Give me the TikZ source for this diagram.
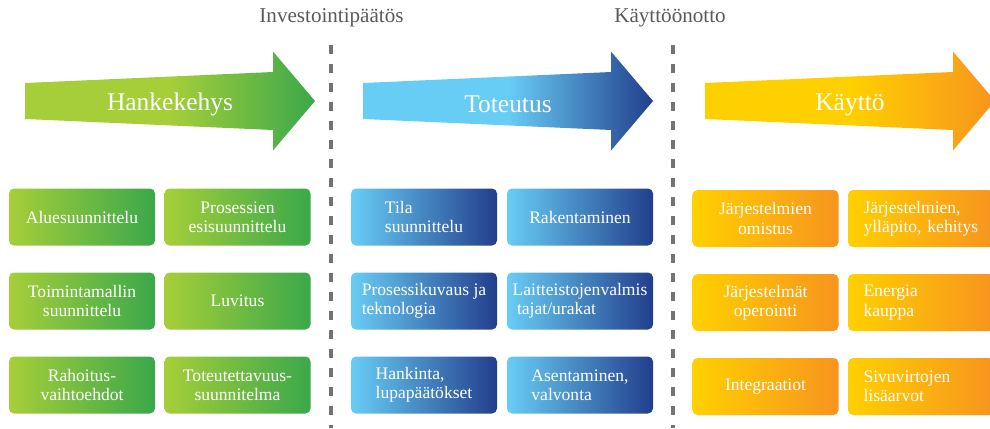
\documentclass[tikz,border=0pt]{standalone}
\usepackage{fontspec}
\setmainfont{Liberation Serif}
\usetikzlibrary{positioning}
\definecolor{hkGreenL} {RGB}{166,206, 57}
\definecolor{hkGreenD} {RGB}{ 58,168, 74}
\definecolor{ttBlueL}  {RGB}{104,205,245}
\definecolor{ttBlueD}  {RGB}{ 34, 62,140}
\definecolor{kyOrangeL}{RGB}{255,208,  0}
\definecolor{kyOrangeD}{RGB}{247,148, 30}
\definecolor{phGrey}   {RGB}{ 90, 90, 90}

\begin{document}
\begin{tikzpicture}[
  every node/.style={font=\fontsize{10}{11}\selectfont},
  box/.style={rounded corners=1mm,minimum width=2.92cm,minimum height=1.14cm,
              align=center,text=white,inner sep=2pt},
  greenbox/.style={box,left color=hkGreenL,right color=hkGreenD},
  bluebox/.style={box,left color=ttBlueL,right color=ttBlueD},
  orangebox/.style={box,left color=kyOrangeL,right color=kyOrangeD},
  orleft/.style={align=left,text width=2.3cm,inner xsep=0.31cm},
  arrowlabel/.style={text=white,font=\fontsize{14.5}{16}\selectfont},
  phaselabel/.style={text=phGrey,font=\fontsize{12}{14}\selectfont},
  divider/.style={draw=phGrey!85,line width=2pt,dash pattern=on 1.8mm off 2mm}
]
\useasboundingbox (0,0) rectangle (19.8,8.56);
\clip (0,0) rectangle (19.8,8.56);

% phase arrows
\foreach \x/\cl/\cd in {0.5/hkGreenL/hkGreenD,7.26/ttBlueL/ttBlueD,14.1/kyOrangeL/kyOrangeD}
  \shade[left color=\cl,right color=\cd,middle color=\cl,shift={(\x,6.54)}]
    (0,0.36) -- (4.96,0.58) -- (4.96,0.99) -- (5.8,0)
    -- (4.96,-0.99) -- (4.96,-0.58) -- (0,-0.36) -- cycle;

\node[arrowlabel] (hanke) at (3.4,6.47)   {Hankekehys};
\node[arrowlabel] (toteu) at (10.16,6.47) {Toteutus};
\node[arrowlabel] (kaytt) at (17.0,6.47)  {Käyttö};

% decision points
\node[phaselabel] (invest) at (6.63,8.2) {Investointipäätös};
\node[phaselabel] (otto)   at (13.4,8.2) {Käyttöönotto};

\coordinate (inv top) at (6.62,7.66);
\coordinate (inv bot) at (6.62,0);
\coordinate (ott top) at (13.46,7.66);
\coordinate (ott bot) at (13.46,0);
\draw[divider] (inv top) -- (inv bot);
\draw[divider] (ott top) -- (ott bot);

% Hankekehys
\node[greenbox] (g11) at (1.64,4.22) {Aluesuunnittelu};
\node[greenbox] (g12) at (4.75,4.22) {Prosessien\\esisuunnittelu};
\node[greenbox] (g21) at (1.64,2.54) {Toimintamallin\\suunnittelu};
\node[greenbox] (g22) at (4.75,2.54) {Luvitus};
\node[greenbox] (g31) at (1.64,0.86) {Rahoitus-\\vaihtoehdot};
\node[greenbox] (g32) at (4.75,0.86) {Toteutettavuus-\\suunnitelma};

% Toteutus
\node[bluebox,align=left] (b11) at (8.48,4.22) {Tila\\suunnittelu};
\node[bluebox]            (b12) at (11.6,4.22) {Rakentaminen};
\node[bluebox,align=left] (b21) at (8.48,2.54) {Prosessikuvaus ja\\teknologia};
\node[bluebox,align=left] (b22) at (11.6,2.54) {Laitteistojenvalmis\\\hspace*{0.25em}tajat/urakat};
\node[bluebox,align=left] (b31) at (8.48,0.86) {Hankinta,\\lupapäätökset};
\node[bluebox,align=left] (b32) at (11.6,0.86) {Asentaminen,\\valvonta};

% Käyttö
\node[orangebox]        (o11) at (15.31,4.19) {Järjestelmien\\omistus};
\node[orangebox,orleft] (o12) at (18.42,4.19) {Järjestelmien,\\ylläpito,~kehitys};
\node[orangebox]        (o21) at (15.31,2.51) {Järjestelmät\\operointi};
\node[orangebox,orleft] (o22) at (18.42,2.51) {Energia\\kauppa};
\node[orangebox]        (o31) at (15.31,0.83) {Integraatiot};
\node[orangebox,orleft] (o32) at (18.42,0.83) {Sivuvirtojen\\lisäarvot};
\end{tikzpicture}
\end{document}
